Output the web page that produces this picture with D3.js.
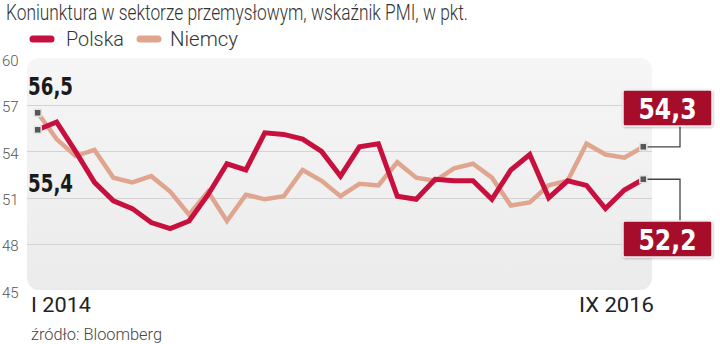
<!DOCTYPE html>
<html><head><meta charset="utf-8">
<script src="https://cdn.jsdelivr.net/npm/d3@7"></script>
<style>
html,body{margin:0;padding:0;background:#fff;}
svg{display:block;}
</style></head>
<body>
<svg id="c" width="720" height="344"></svg>
<script>
const months = d3.range(33); // I 2014 .. IX 2016
const polska = [55.4,55.9,54.0,52.0,50.8,50.3,49.4,49.0,49.5,51.2,53.2,52.8,
                55.2,55.1,54.8,54.0,52.4,54.3,54.5,51.1,50.9,52.2,52.1,52.1,
                50.9,52.8,53.8,51.0,52.1,51.8,50.3,51.5,52.2];
const niemcy = [56.5,54.8,53.7,54.1,52.3,52.0,52.4,51.4,49.9,51.4,49.5,51.2,
                50.9,51.1,52.8,52.1,51.1,51.9,51.8,53.3,52.3,52.1,52.9,53.2,
                52.3,50.5,50.7,51.8,52.1,54.5,53.8,53.6,54.3];
const yTicks = [45,48,51,54,57,60];
const xLabels = ["I 2014","IX 2016"];
const seriesNames = ["Polska","Niemcy"];
const title = "Koniunktura w sektorze przemysłowym, wskaźnik PMI, w pkt.";
const source = "źródło: Bloomberg";

const colPL = "#c8103e", colDE = "#dfa58e";
const svg = d3.select("#c");
const x = d3.scaleLinear().domain([0,32]).range([37.7,643.3]);
const y = d3.scaleLinear().domain([45,60]).range([290.5,58.7]);

const defs = svg.append("defs");
const g = defs.append("linearGradient").attr("id","bg").attr("x1",0).attr("y1",0).attr("x2",0).attr("y2",1);
g.append("stop").attr("offset","0%").attr("stop-color","#f6f6f7");
g.append("stop").attr("offset","100%").attr("stop-color","#ebebec");
const f = defs.append("filter").attr("id","sh").attr("x","-10%").attr("y","-10%").attr("width","130%").attr("height","140%");
f.append("feDropShadow").attr("dx",0.5).attr("dy",1).attr("stdDeviation",1).attr("flood-color","#000").attr("flood-opacity",0.25);

// title
svg.append("text").attr("x",6).attr("y",20).text(title)
  .attr("font-family","Roboto, 'Liberation Sans Narrow', sans-serif").attr("font-weight",300)
  .attr("font-size",22).attr("fill","#333")
  .attr("textLength",462).attr("lengthAdjust","spacingAndGlyphs");

// legend
const leg = [{n:seriesNames[0],c:colPL,x:30,tx:66,tw:58},{n:seriesNames[1],c:colDE,x:137,tx:170,tw:68}];
leg.forEach(d=>{
  svg.append("line").attr("x1",d.x+3).attr("x2",d.x+21).attr("y1",39).attr("y2",39)
    .attr("stroke",d.c).attr("stroke-width",7).attr("stroke-linecap","round");
  svg.append("text").attr("x",d.tx).attr("y",46).text(d.n)
    .attr("font-family","Roboto, sans-serif").attr("font-weight",300).attr("font-size",20).attr("fill","#333")
    .attr("textLength",d.tw).attr("lengthAdjust","spacingAndGlyphs");
});

// panel
svg.append("rect").attr("x",27).attr("y",58).attr("width",625).attr("height",232)
  .attr("rx",12).attr("fill","url(#bg)");

// grid
svg.append("g").selectAll("line").data(yTicks.filter(t=>t>45 && t<60)).join("line")
  .attr("x1",27).attr("x2",652).attr("y1",d=>Math.round(y(d))+0.5).attr("y2",d=>Math.round(y(d))+0.5)
  .attr("stroke","#d3d3d5").attr("stroke-width",1.2);

// y axis labels
const yAxis = d3.axisLeft(y).tickValues(yTicks).tickSize(0).tickPadding(0);
const ya = svg.append("g").attr("transform","translate(2,2)").call(yAxis);
ya.select(".domain").remove();
ya.selectAll("text").attr("font-family","Roboto, sans-serif").attr("font-weight",300)
  .attr("font-size",15).attr("fill","#555").attr("text-anchor","start");

// lines
const line = d3.line().x((d,i)=>x(months[i])).y(d=>y(d));
svg.append("path").datum(niemcy).attr("d",line).attr("fill","none")
  .attr("stroke",colDE).attr("stroke-width",4.5).attr("stroke-linejoin","miter");
svg.append("path").datum(polska).attr("d",line).attr("fill","none")
  .attr("stroke",colPL).attr("stroke-width",5).attr("stroke-linejoin","miter");

// connectors for end callouts
const lastX = x(months[32]);
const cx = 680;
svg.append("path").attr("d",`M${lastX},${y(niemcy[32])}H${cx}V125`).attr("fill","none").attr("stroke","#444").attr("stroke-width",1.3);
svg.append("path").attr("d",`M${lastX},${y(polska[32])}H${cx}V221`).attr("fill","none").attr("stroke","#444").attr("stroke-width",1.3);

// markers
const marks = [[0,niemcy[0]],[0,polska[0]],[32,niemcy[32]],[32,polska[32]]];
svg.append("g").selectAll("rect").data(marks).join("rect")
  .attr("x",d=>x(d[0])-3.5).attr("y",d=>y(d[1])-3.5).attr("width",7).attr("height",7)
  .attr("fill","#555").attr("stroke","#e4e4e4").attr("stroke-width",1.5);

// start labels
const bold = "'Liberation Sans Narrow', 'DejaVu Sans Condensed', sans-serif";
const fmt = v => d3.format(".1f")(v).replace(".",",");
svg.append("text").attr("x",28).attr("y",95).text(fmt(niemcy[0]))
  .attr("font-family",bold).attr("font-weight","bold").attr("font-size",25).attr("fill","#1a1a1a")
  .attr("textLength",45).attr("lengthAdjust","spacingAndGlyphs");
svg.append("text").attr("x",28).attr("y",192).text(fmt(polska[0]))
  .attr("font-family",bold).attr("font-weight","bold").attr("font-size",25).attr("fill","#1a1a1a")
  .attr("textLength",45).attr("lengthAdjust","spacingAndGlyphs");

// end callouts
[[90,niemcy[32]],[221,polska[32]]].forEach(([by,v])=>{
  svg.append("rect").attr("x",623).attr("y",by).attr("width",89).attr("height",36).attr("rx",2)
    .attr("fill","#a50e2c").attr("stroke","#eeeeee").attr("stroke-width",1.5).attr("filter","url(#sh)");
  svg.append("text").attr("x",667.5).attr("y",by+29).text(fmt(v)).attr("text-anchor","middle")
    .attr("font-family",bold).attr("font-weight","bold").attr("font-size",29).attr("fill","#fff")
    .attr("textLength",58).attr("lengthAdjust","spacingAndGlyphs");
});

// x labels
svg.append("text").attr("x",31).attr("y",312).text(xLabels[0])
  .attr("font-family","Roboto, sans-serif").attr("font-size",20).attr("fill","#222")
  .attr("textLength",60).attr("lengthAdjust","spacingAndGlyphs");
svg.append("text").attr("x",654).attr("y",312).text(xLabels[1]).attr("text-anchor","end")
  .attr("font-family","Roboto, sans-serif").attr("font-size",20).attr("fill","#222")
  .attr("textLength",75).attr("lengthAdjust","spacingAndGlyphs");

// source
svg.append("text").attr("x",31).attr("y",340).text(source)
  .attr("font-family","Roboto, sans-serif").attr("font-weight",300).attr("font-size",16).attr("fill","#444")
  .attr("textLength",131).attr("lengthAdjust","spacingAndGlyphs");
</script>
</body></html>
